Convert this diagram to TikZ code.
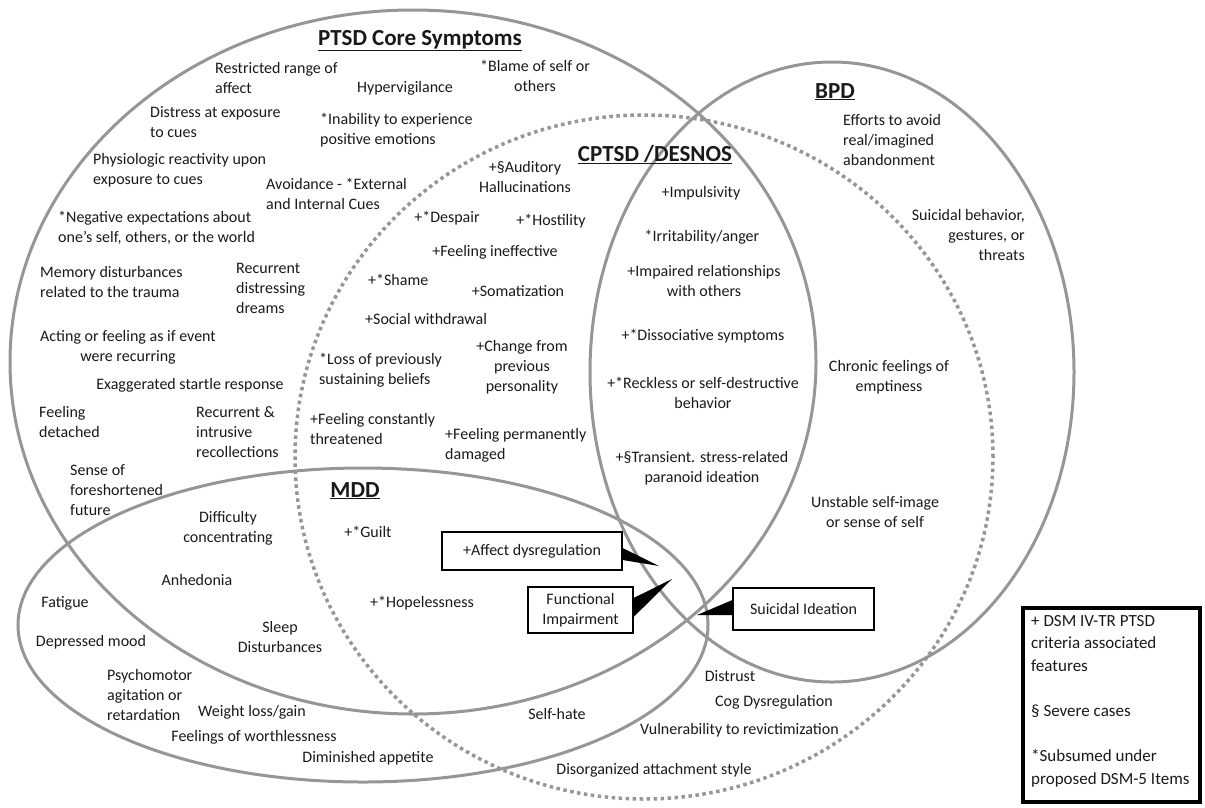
\documentclass[tikz,border=0pt]{standalone}
\usepackage{fontspec}
\setmainfont{Carlito}
\usetikzlibrary{shapes.geometric}
\definecolor{ring}{RGB}{150,150,150}
\definecolor{ink}{RGB}{25,25,25}
\begin{document}
\begin{tikzpicture}[x=1pt,y=-1pt,
  venn/.style={draw=ring, line width=3pt, ellipse, inner sep=0pt, outer sep=0pt},
  dotring/.style={draw=ring, line width=3.5pt, dash pattern=on 3.5pt off 3.5pt, ellipse, inner sep=0pt, outer sep=0pt},
  txt/.style={font=\fontsize{16}{20}\selectfont, inner sep=0pt, align=center, text=ink},
  txl/.style={txt, align=left, anchor=west},
  txr/.style={txt, align=right, anchor=east},
  ttl/.style={font=\fontsize{23}{26}\selectfont\bfseries, inner sep=0pt, anchor=base, text=ink},
  callbox/.style={draw=black, line width=1.3pt, fill=white, txt},
  wedge/.style={fill=black}
]
\useasboundingbox (0,0) rectangle (1205,807);

% ---- sets ----
\node[venn, minimum width=806pt, minimum height=704pt] (ptsd) at (413,362) {};
\node[venn, minimum width=484pt, minimum height=620pt] (bpd) at (832,372) {};
\node[dotring, minimum width=698pt, minimum height=684pt] (cptsd) at (644,457) {};
\node[venn, minimum width=690pt, minimum height=314pt] (mdd) at (363,625) {};

% ---- titles ----
\node[ttl] (ptsdT) at (420,45) {\underline{PTSD Core Symptoms}};
\node[ttl] (cptsdT) at (655,161) {\underline{CPTSD /DESNOS}};
\node[ttl] (bpdT) at (835,98) {\underline{BPD}};
\node[ttl] (mddT) at (355,497) {\underline{MDD}};

% ---- PTSD core ----
\node[txl] (p1) at (215,78) {Restricted range of\\affect};
\node[txt] (p2) at (405,88) {Hypervigilance};
\node[txt] (p3) at (535,76) {*Blame of self or\\others};
\node[txl] (p4) at (150,122) {Distress at exposure\\to cues};
\node[txl] (p5) at (320,130) {*Inability to experience\\positive emotions};
\node[txl] (p6) at (93,170) {Physiologic reactivity upon\\exposure to cues};
\node[txl] (p7) at (266,194) {Avoidance - *External\\and Internal Cues};
\node[txl] (p8) at (58,228) {*Negative expectations about\\one's self, others, or the world};
\node[txl] (p9) at (40,282) {Memory disturbances\\related to the trauma};
\node[txl] (p10) at (236,288) {Recurrent\\distressing\\dreams};
\node[txt] (p11) at (128,347) {Acting or feeling as if event\\were recurring};
\node[txt] (p12) at (190,385) {Exaggerated startle response};
\node[txl] (p13) at (39,422) {Feeling\\detached};
\node[txl] (p14) at (196,432) {Recurrent \&\\intrusive\\recollections};
\node[txl] (p15) at (70,490) {Sense of\\foreshortened\\future};

% ---- CPTSD ----
\node[txt] (c1) at (525,177) {+§Auditory\\Hallucinations};
\node[txt] (c2) at (447,218) {+*Despair};
\node[txt] (c3) at (551,221) {+*Hostility};
\node[txt] (c4) at (495,252) {+Feeling ineffective};
\node[txl] (c5) at (368,280) {+*Shame};
\node[txt] (c6) at (518,291) {+Somatization};
\node[txl] (c7) at (365,319) {+Social withdrawal};
\node[txl] (c8) at (319,370) {*Loss of previously\\sustaining beliefs};
\node[txt] (c9) at (522,367) {+Change from\\previous\\personality};
\node[txl] (c10) at (310,429) {+Feeling constantly\\threatened};
\node[txl] (c11) at (445,445) {+Feeling permanently\\damaged};
\node[txt] (c12) at (701,193) {+Impulsivity};
\node[txt] (c13) at (702,237) {*Irritability/anger};
\node[txt] (c14) at (704,281) {+Impaired relationships\\with others};
\node[txt] (c15) at (703,336) {+*Dissociative symptoms};
\node[txt] (c16) at (703,393) {+*Reckless or self-destructive\\behavior};
\node[txt] (c17) at (702,468) {+§Transient. stress-related\\paranoid ideation};

% ---- BPD ----
\node[txl] (b1) at (843,140) {Efforts to avoid\\real/imagined\\abandonment};
\node[txr] (b2) at (1025,235) {Suicidal behavior,\\gestures, or\\threats};
\node[txt] (b3) at (889,377) {Chronic feelings of\\emptiness};
\node[txt] (b4) at (875,512) {Unstable self-image\\or sense of self};

% ---- MDD ----
\node[txt] (m1) at (228,528) {Difficulty\\concentrating};
\node[txt] (m2) at (368,532) {+*Guilt};
\node[txt] (m3) at (197,580) {Anhedonia};
\node[txt] (m4) at (65,603) {Fatigue};
\node[txt] (m5) at (422,603) {+*Hopelessness};
\node[txt] (m6) at (91,642) {Depressed mood};
\node[txt] (m7) at (280,637) {Sleep\\Disturbances};
\node[txl] (m8) at (107,695) {Psychomotor\\agitation or\\retardation};
\node[txt] (m9) at (252,712) {Weight loss/gain};
\node[txt] (m10) at (254,737) {Feelings of worthlessness};
\node[txt] (m11) at (368,758) {Diminished appetite};
\node[txt] (m12) at (557,714) {Self-hate};
\node[txt] (m13) at (730,676) {Distrust};
\node[txl] (m14) at (715,702) {Cog Dysregulation};
\node[txl] (m15) at (640,730) {Vulnerability to revictimization};
\node[txt] (m16) at (654,770) {Disorganized attachment style};

% ---- callouts ----
\node[callbox, minimum width=180pt, minimum height=38pt] (aff) at (532,551) {+Affect dysregulation};
\node[callbox, minimum width=105pt, minimum height=46pt] (func) at (580.5,610) {Functional\\Impairment};
\node[callbox, minimum width=141pt, minimum height=42pt] (sui) at (803.5,609) {Suicidal Ideation};
\coordinate (affTip) at (659,566);
\coordinate (funcTip) at (672,579);
\coordinate (suiTip) at (697,615);
\fill[wedge] (aff.east |- 0,548) -- (affTip) -- (aff.east |- 0,560) -- cycle;
\fill[wedge] (func.east |- 0,598) -- (funcTip) -- (func.east |- 0,617) -- cycle;
\fill[wedge] (sui.west |- 0,600) -- (suiTip) -- (sui.west |- 0,615) -- cycle;

% ---- legend ----
\node[draw=black, line width=3.5pt, minimum width=177pt, minimum height=194pt, inner sep=0pt] (legend) at (1111.5,705) {};
\node[txl, font=\fontsize{17}{22.6}\selectfont] (legtext) at (1031,701) {+ DSM IV-TR PTSD\\criteria associated\\features\\[22.6pt]§ Severe cases\\[22.6pt]*Subsumed under\\proposed DSM-5 Items};
\end{tikzpicture}
\end{document}
